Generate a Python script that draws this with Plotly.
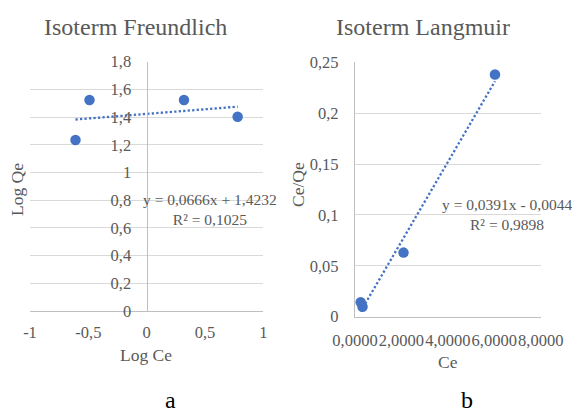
import plotly.graph_objects as go

# ---- data ----
fr_log_ce = [-0.61, -0.49, 0.32, 0.78]
fr_log_qe = [1.235, 1.523, 1.523, 1.403]
fr_slope, fr_intercept = 0.0666, 1.4232
fr_r2 = 0.1025

lg_ce = [0.245, 0.324, 2.09, 6.03]
lg_ce_qe = [0.0142, 0.0097, 0.063, 0.238]
lg_slope, lg_intercept = 0.0391, -0.0044
lg_r2 = 0.9898

fr_xtickvals = [-1, -0.5, 0, 0.5, 1]
fr_xticktext = ["-1", "-0,5", "0", "0,5", "1"]

# page body has an 8px margin: the figure is drawn from (8, 8)
OFF = 8
W, H = 580 - OFF, 414 - OFF
FONT = "Liberation Serif"
GREY = "#595959"
BLUE = "#4472C4"


def px(x):
    return (x - OFF) / W


def py(y):
    return 1 - (y - OFF) / H


fig = go.Figure()

# Freundlich
fig.add_trace(go.Scatter(x=fr_log_ce, y=fr_log_qe, mode="markers",
                         marker=dict(color=BLUE, size=10.5), xaxis="x", yaxis="y",
                         showlegend=False, hoverinfo="skip"))
fx = [min(fr_log_ce), max(fr_log_ce)]
fig.add_trace(go.Scatter(x=fx, y=[fr_slope * v + fr_intercept for v in fx], mode="lines",
                         line=dict(color=BLUE, width=2.3, dash="2.3px,2.2px"), xaxis="x", yaxis="y",
                         showlegend=False, hoverinfo="skip"))

# Langmuir
fig.add_trace(go.Scatter(x=lg_ce, y=lg_ce_qe, mode="markers",
                         marker=dict(color=BLUE, size=10.5), xaxis="x2", yaxis="y2",
                         showlegend=False, hoverinfo="skip"))
lx = [min(lg_ce), max(lg_ce)]
fig.add_trace(go.Scatter(x=lx, y=[lg_slope * v + lg_intercept for v in lx], mode="lines",
                         line=dict(color=BLUE, width=2.3, dash="2.3px,2.2px"), xaxis="x2", yaxis="y2",
                         showlegend=False, hoverinfo="skip"))

tickfont = dict(family=FONT, size=16.5, color=GREY)
xd1 = [px(30), px(263.3)]
xd2 = [px(355), px(540.7)]

fig.update_layout(
    width=W, height=H,
    margin=dict(l=0, r=0, t=0, b=0, autoexpand=False),
    paper_bgcolor="white", plot_bgcolor="white",
    separators=",.",
    xaxis=dict(domain=xd1, range=[-1, 1], tickvals=fr_xtickvals, ticktext=fr_xticktext,
               showgrid=False, zeroline=False, showline=True, linecolor="#bfbfbf", linewidth=1.3,
               tickfont=tickfont, ticks="", anchor="y", tickangle=0, ticklabelstandoff=6,
               automargin=False),
    yaxis=dict(domain=[py(311), py(61.7)], range=[0, 1.8], dtick=0.2,
               showgrid=True, gridcolor="#d9d9d9", gridwidth=1.3, zeroline=False,
               showline=True, linecolor="#bfbfbf", linewidth=1.3,
               anchor="free", position=(xd1[0] + xd1[1]) / 2,
               tickfont=tickfont, ticks="", ticklabelstandoff=12, automargin=False),
    xaxis2=dict(domain=xd2, range=[0, 8], dtick=2, tickformat=".4f",
                showgrid=False, zeroline=False, showline=True, linecolor="#bfbfbf", linewidth=1.3,
                tickfont=tickfont, ticks="", anchor="y2", tickangle=0, ticklabelstandoff=8,
                automargin=False),
    yaxis2=dict(domain=[py(316.7), py(62.3)], range=[0, 0.25], dtick=0.05,
                showgrid=True, gridcolor="#d9d9d9", gridwidth=1.3, zeroline=False,
                showline=True, linecolor="#bfbfbf", linewidth=1.3, anchor="x2",
                tickfont=tickfont, ticks="", ticklabelstandoff=12, automargin=False),
)


def ann(text, x, y, size, rot=0, color=GREY, xanchor="center"):
    fig.add_annotation(text=text, x=px(x), y=py(y), xref="paper", yref="paper",
                       showarrow=False, xanchor=xanchor, yanchor="middle", textangle=rot,
                       font=dict(family=FONT, size=size, color=color), align="center")


ann("Isoterm Freundlich", 135.5, 27, 24)
ann("Isoterm Langmuir", 423, 27, 24)
ann("Log Ce", 146, 355, 17.5)
ann("Ce", 448, 362, 17.5)
ann("Log Qe", 17, 190, 17.5, rot=-90)
ann("Ce/Qe", 298, 185, 17.5, rot=-90)
ann(f"y = 0,0666x + 1,4232<br>R² = {str(fr_r2).replace('.', ',')}", 210, 210, 15.5)
ann(f"y = 0,0391x - 0,0044<br>R² = {str(lg_r2).replace('.', ',')}", 507, 214, 15.5)
ann("a", 170, 400, 24, color="#000000")
ann("b", 467, 400, 24, color="#000000")

fig.write_html("out.html")
